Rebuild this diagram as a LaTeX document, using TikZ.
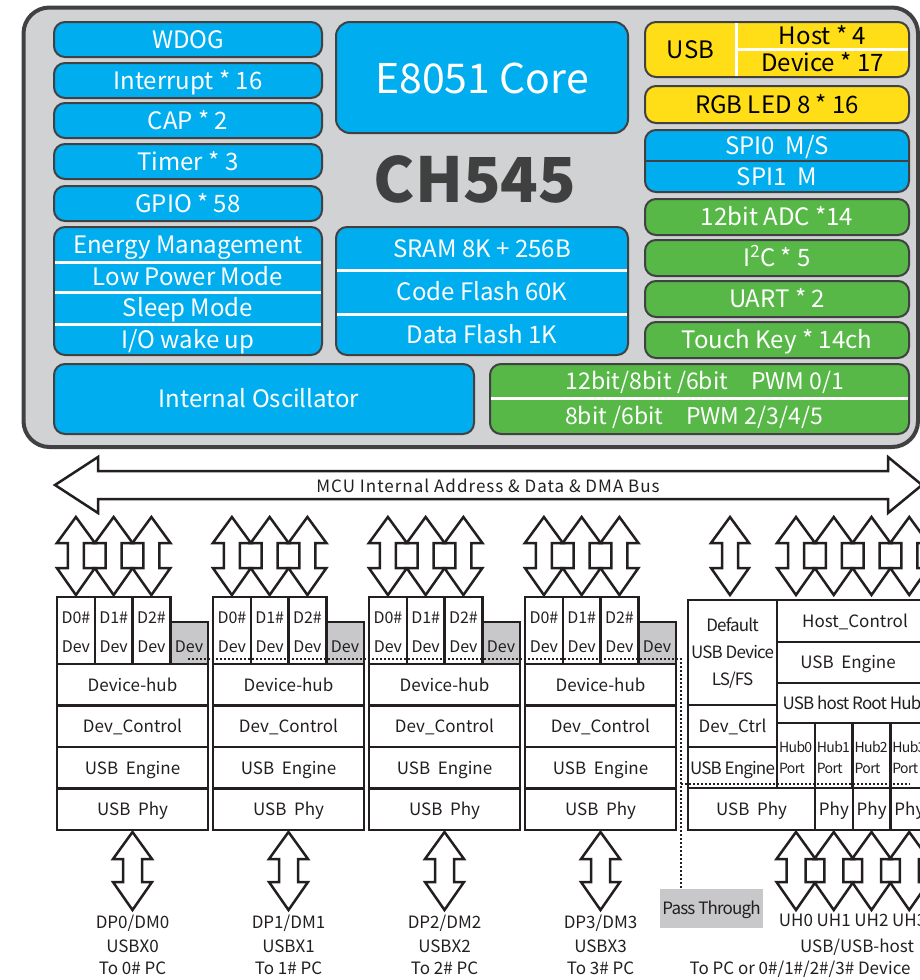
\documentclass[tikz,border=0pt]{standalone}
\usepackage{fontspec}
\setmainfont{Noto Sans CJK SC}
\newfontfamily\tightfont[LetterSpace=-5]{Noto Sans CJK SC}
\newfontfamily\widefont[LetterSpace=6]{Noto Sans CJK SC}
\usepackage{tikz}
\usetikzlibrary{calc}
\definecolor{chipGray}{RGB}{209,210,212}
\definecolor{chipEdge}{RGB}{65,64,66}
\definecolor{chipBlue}{RGB}{0,174,239}
\definecolor{chipYellow}{RGB}{255,222,23}
\definecolor{chipGreen}{RGB}{87,184,71}
\definecolor{inkDark}{RGB}{35,31,32}
\definecolor{cellGray}{RGB}{200,200,202}
\definecolor{titleGray}{RGB}{64,64,64}

\begin{document}
\begin{tikzpicture}[x=1pt, y=-1pt,
    chipbox/.style={draw=chipEdge, line width=2pt, rounded corners=11pt},
    sky/.style={chipbox, fill=chipBlue},
    sun/.style={chipbox, fill=chipYellow},
    leaf/.style={chipbox, fill=chipGreen},
    wlbl/.style={text=white, inner sep=0pt, font=\fontsize{24}{26}\selectfont, text height=17.6pt, text depth=0pt},
    klbl/.style={wlbl, text=black},
    sepw/.style={white, line width=3pt},
    cell/.style={draw=inkDark, line width=2.5pt, fill=white},
    grycell/.style={cell, fill=cellGray},
    slbl/.style={text=inkDark, inner sep=0pt, font=\fontsize{17}{20}\selectfont, text height=12.5pt, text depth=0pt},
    tlbl/.style={slbl, font=\tightfont\fontsize{17}{20}\selectfont},
    dlbl/.style={slbl, font=\fontsize{16}{18}\selectfont, text height=11.7pt},
    plbl/.style={slbl, font=\tightfont\fontsize{14}{16}\selectfont, text height=10.3pt, anchor=west},
    passbox/.style={tlbl, fill=cellGray, minimum width=103pt, minimum height=39pt},
    dotline/.style={inkDark, line width=2pt, dotted},
    blockarrow/.style={draw=inkDark, fill=white, line width=2.5pt},
    busport/.pic={
      \draw[blockarrow] (0,0) -- (19,26) -- (8,26) -- (8,51) -- (19,51) -- (0,78)
        -- (-19,51) -- (-8,51) -- (-8,26) -- (-19,26) -- cycle;
    },
    pinport/.pic={
      \draw[blockarrow] (0,0) -- (19.5,27) -- (9.5,27) -- (9.5,50) -- (19.5,50) -- (0,78)
        -- (-19.5,50) -- (-9.5,50) -- (-9.5,27) -- (-19.5,27) -- cycle;
    },
  ]
  \useasboundingbox (0,0) rectangle (920,980);
  \clip (0,0) rectangle (920,980);

  % chip body
  \draw[draw=chipEdge, fill=chipGray, line width=4pt, rounded corners=26pt] (23.5,7.5) rectangle (918,447);

  % peripherals, left column
  \foreach \y/\txt [count=\i] in {22/WDOG, 63/Interrupt * 16, 103/CAP * 2, 144/Timer * 3, 186/GPIO * 58} {
    \draw[sky] (54,\y) rectangle (322,{\y+35});
    \node[wlbl] (per\i) at (188,{\y+17.5}) {\txt};
  }

  % energy management
  \draw[sky] (54,227) rectangle (322,355);
  \foreach \y in {262,292,324} \draw[sepw] (55,\y) -- (321,\y);
  \node[wlbl] (energy) at (188,244.5) {Energy Management};
  \node[wlbl] (lowpwr) at (188,277) {Low Power Mode};
  \node[wlbl] (sleep) at (188,308) {Sleep Mode};
  \node[wlbl] (iowake) at (188,339.5) {I/O wake up};

  % oscillator
  \draw[sky] (54,364) rectangle (474,434);
  \node[wlbl] (osc) at (259,399) {Internal Oscillator};

  % core and name
  \draw[sky, rounded corners=14pt] (336,22) rectangle (628,133);
  \node[wlbl, font=\fontsize{41}{44}\selectfont, text height=30pt] (core) at (482,78) {E8051 Core};
  \node[inner sep=0pt, text=titleGray, font=\bfseries\fontsize{62}{64}\selectfont,
        text height=45pt, text depth=0pt] (chip) at (475,180) {CH545};

  % memory
  \draw[sky] (336,227) rectangle (628,355);
  \foreach \y in {270,314} \draw[sepw] (337,\y) -- (627,\y);
  \node[wlbl] (sram) at (482,248.5) {SRAM 8K + 256B};
  \node[wlbl] (cflash) at (482,292) {Code Flash 60K};
  \node[wlbl] (dflash) at (482,334.5) {Data Flash 1K};

  % usb and led
  \draw[sun] (645,22) rectangle (909,77);
  \draw[sepw] (736,23) -- (736,76);
  \draw[sepw] (736,49.5) -- (908,49.5);
  \node[klbl] (usb) at (690.5,49.5) {USB};
  \node[klbl] (host) at (822.5,35.5) {Host * 4};
  \node[klbl] (device) at (822.5,63) {Device * 17};
  \draw[sun] (645,86) rectangle (909,123);
  \node[klbl] (rgb) at (777,104.5) {RGB LED 8 * 16};

  % spi
  \draw[sky] (645,130) rectangle (909,192);
  \draw[chipEdge, line width=2.5pt] (646,161) -- (908,161);
  \node[wlbl] (spi0) at (777,145.5) {SPI0\ \ M/S};
  \node[wlbl] (spi1) at (777,176.5) {SPI1\ \ M};

  % analog and serial
  \foreach \y/\txt [count=\i] in {199/12bit ADC *14, 240/I\textsuperscript{2}C * 5, 281/UART * 2, 322/Touch Key * 14ch} {
    \draw[leaf] (645,\y) rectangle (909,{\y+36});
    \node[wlbl] (ana\i) at (777,{\y+18}) {\txt};
  }

  % pwm
  \draw[leaf] (490,364) rectangle (909,434);
  \draw[sepw] (491,398) -- (908,398);
  \node[wlbl, font=\fontsize{23}{25}\selectfont, text height=16.9pt] (pwma) at (705,381) {12bit/8bit /6bit\quad PWM 0/1};
  \node[wlbl, font=\fontsize{23}{25}\selectfont, text height=16.9pt] (pwmb) at (694,416) {8bit /6bit\quad PWM 2/3/4/5};

  % bus
  \draw[blockarrow] (55,485) -- (98,457) -- (98,471) -- (888,471) -- (888,457) -- (922,485)
    -- (888,513) -- (888,499) -- (98,499) -- (98,513) -- cycle;
  \node[slbl, font=\widefont\fontsize{17}{20}\selectfont] (bus) at (488,486) {MCU Internal Address \& Data \& DMA Bus};

  % device hubs
  \foreach \i in {0,...,3} {
    \pgfmathsetmacro\hx{57+156*\i}
    \foreach \j in {0,1,2} {
      \pic at ({\hx+18.9+37.75*\j},517) {busport};
      \draw[cell] ({\hx+37.75*\j},597) rectangle ++(37.75,67);
      \node[dlbl] (h\i-d\j) at ({\hx+18.9+37.75*\j},618) {D\j\#};
      \node[dlbl] (h\i-v\j) at ({\hx+18.9+37.75*\j},647) {Dev};
    }
    \draw[grycell] ({\hx+113.25},622) rectangle ++(37.75,42);
    \node[dlbl] (h\i-g) at ({\hx+132.1},647) {Dev};
    \foreach \rowy/\rowtxt [count=\rk] in {664/Device-hub, 705.5/Dev\_Control, 747/USB\ \ Engine, 788.5/USB\ \ Phy} {
      \draw[cell] (\hx,\rowy) rectangle ++(151,41.5);
      \node[slbl] (h\i-r\rk) at ({\hx+75.5},{\rowy+20.75}) {\rowtxt};
    }
    \pic at ({\hx+75.5},832) {pinport};
    \node[slbl] (dp\i) at ({\hx+75.5},922) {DP\i/DM\i};
    \node[slbl] (usbx\i) at ({\hx+75.5},946) {USBX\i};
    \node[slbl] (topc\i) at ({\hx+75.5},968) {To \i\# PC};
  }

  % default device + host side
  \pic at (730,517) {busport};
  \foreach \k in {0,...,3} \pic at ({796+37.75*\k},517) {busport};
  \draw[cell] (688,600) rectangle (777,705);
  \node[tlbl] (defa) at (732.5,625) {Default};
  \node[tlbl] (defb) at (732.5,652) {USB Device};
  \node[tlbl] (defc) at (732.5,679) {LS/FS};
  \draw[cell] (688,705) rectangle (777,747);
  \node[slbl] (devctrl) at (732.5,726) {Dev\_Ctrl};
  \draw[cell] (688,747) rectangle (777,788);
  \node[tlbl] (devusbe) at (732.5,768) {USB Engine};
  \draw[cell] (688,788) rectangle (815,830);
  \node[slbl] (devphy) at (751.5,809) {USB\ \ Phy};
  \draw[cell] (777,600) rectangle (940,642);
  \node[slbl] (hostctl) at (855,621) {Host\_Control};
  \draw[cell] (777,642) rectangle (940,683);
  \node[slbl] (hostusbe) at (848,662.5) {USB\ \ Engine};
  \draw[cell] (777,683) rectangle (940,723);
  \node[tlbl] (roothub) at (852,703) {USB host Root Hub};
  \foreach \k in {0,...,3} {
    \draw[cell] ({777+37.75*\k},723) rectangle ++(37.75,65);
    \node[plbl] (hub\k) at ({779+37.75*\k},747) {Hub\k};
    \node[plbl] (port\k) at ({779+37.75*\k},768) {Port};
  }
  \foreach \k in {0,1,2} {
    \draw[cell] ({815+37.75*\k},788) rectangle ++(37.75,42);
    \node[slbl] (phy\k) at ({833.9+37.75*\k},809) {Phy};
  }
  \foreach \k in {0,...,3} {
    \pic at ({796+37.75*\k},832) {pinport};
    \node[slbl] (uh\k) at ({796+37.75*\k},920) {UH\k};
  }
  \node[slbl] (usbhost) at (857,946) {USB/USB-host};
  \node[slbl] (topcdev) at (800,968) {To PC or 0\#/1\#/2\#/3\# Device};

  % pass through
  \node[passbox] (pass) at (711.5,908.5) {Pass Through};
  \coordinate (dotstart) at (188,659);
  \coordinate (tap) at (681,659);
  \coordinate (branch) at (681,784);
  \coordinate (branchend) at (910,784);
  \draw[dotline] (dotstart) -- (tap) -- (tap |- pass.north);
  \draw[dotline] (branch) -- (branchend);
\end{tikzpicture}
\end{document}
